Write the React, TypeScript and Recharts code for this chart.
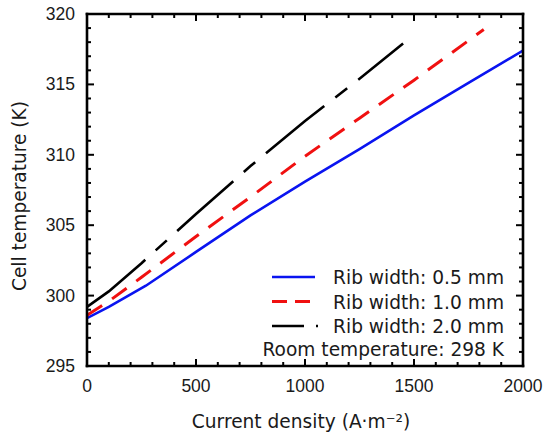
import { LineChart, Line, XAxis, YAxis, Legend } from "recharts";

// values
const xTicks = [0, 100, 200, 300, 400, 500, 600, 700, 800, 900, 1000, 1100, 1200, 1300, 1400, 1500, 1600, 1700, 1800, 1900, 2000];
const yTicks = [295, 296, 297, 298, 299, 300, 301, 302, 303, 304, 305, 306, 307, 308, 309, 310, 311, 312, 313, 314, 315, 316, 317, 318, 319, 320];

const blueX = [0, 100, 270, 500, 750, 1000, 1250, 1500, 1750, 2000];
const blueY = [298.4, 299.2, 300.7, 303.1, 305.7, 308.1, 310.4, 312.8, 315.1, 317.4];

const redX = [0, 100, 250, 500, 750, 1000, 1250, 1500, 1820];
const redY = [298.6, 299.6, 301.3, 304.2, 307.0, 309.9, 312.6, 315.3, 318.9];

const blackX = [0, 100, 250, 500, 750, 1000, 1250, 1450];
const blackY = [299.2, 300.3, 302.3, 305.8, 309.2, 312.4, 315.4, 317.9];

const seriesNames = ["Rib width: 0.5 mm", "Rib width: 1.0 mm", "Rib width: 2.0 mm"];
const seriesColors = ["#0a14f0", "#f01010", "#000000"];
const seriesDash = [undefined, "18 12", "75 14 15 14"];
const legendDash = [undefined, "15 8", "32 12 2 40"];
const seriesWidth = [2.6, 3, 2.6];
const roomText = "Room temperature: 298 K";

const toRows = (xs: number[], ys: number[]) => xs.map((x, i) => ({ x, y: ys[i] }));
const seriesData = [toRows(blueX, blueY), toRows(redX, redY), toRows(blackX, blackY)];

const tickFont = { fontFamily: "'Liberation Sans', Arial, sans-serif", fontSize: 17.5, fill: "#1a1a1a" };
const titleFont = { fontFamily: "'DejaVu Sans', sans-serif", fontSize: 18.6, fill: "#1a1a1a" };
const frame = { stroke: "#000", strokeWidth: 2.6, strokeLinecap: "square" as const };

const isMajorX = (v: number) => v % 500 === 0;
const isMajorY = (v: number) => v % 5 === 0;

function BottomTick({ x, y, payload }: any) {
  const major = isMajorX(payload.value);
  return (
    <g>
      <line x1={x} x2={x} y1={y} y2={y - (major ? 7 : 4)} stroke="#000" strokeWidth={2} />
      {major && (
        <text x={x} y={y + 26} textAnchor="middle" {...tickFont}>
          {payload.value}
        </text>
      )}
    </g>
  );
}

function TopTick({ x, y, payload }: any) {
  const major = isMajorX(payload.value);
  return <line x1={x} x2={x} y1={y} y2={y + (major ? 7 : 4)} stroke="#000" strokeWidth={2} />;
}

function LeftTick({ x, y, payload }: any) {
  const major = isMajorY(payload.value);
  return (
    <g>
      <line x1={x} x2={x + (major ? 7 : 4)} y1={y} y2={y} stroke="#000" strokeWidth={2} />
      {major && (
        <text x={x - 12} y={y + 6} textAnchor="end" {...tickFont}>
          {payload.value}
        </text>
      )}
    </g>
  );
}

function RightTick({ x, y, payload }: any) {
  const major = isMajorY(payload.value);
  return <line x1={x - (major ? 7 : 4)} x2={x} y1={y} y2={y} stroke="#000" strokeWidth={2} />;
}

function LegendBox() {
  return (
    <svg width={262} height={100} style={{ display: "block" }}>
      {seriesNames.map((name, i) => {
        const cy = 15 + i * 24.5;
        return (
          <g key={name}>
            <line
              x1={22}
              x2={i === 2 ? 68 : i === 1 ? 60 : 65}
              y1={cy}
              y2={cy}
              stroke={seriesColors[i]}
              strokeWidth={seriesWidth[i]}
              strokeDasharray={legendDash[i]}
            />
            <text x={254} y={cy + 7} textAnchor="end" {...titleFont}>
              {name}
            </text>
          </g>
        );
      })}
      <text x={254} y={87 + 7} textAnchor="end" {...titleFont}>
        {roomText}
      </text>
    </svg>
  );
}

export default function App() {
  return (
    <div style={{ position: "absolute", left: 0, top: 0, width: 545, height: 435, background: "#fff" }}>
      <LineChart width={545} height={435} margin={{ top: 0, right: 0, bottom: 0, left: 0 }}>
        <XAxis
          xAxisId="b"
          type="number"
          dataKey="x"
          domain={[0, 2000]}
          ticks={xTicks}
          interval={0}
          height={69}
          tickSize={0}
          tickMargin={0}
          tickLine={false}
          axisLine={frame}
          tick={BottomTick}
          allowDataOverflow
          label={(p: any) => (
            <text
              x={p.viewBox.x + p.viewBox.width / 2 - 4}
              y={p.viewBox.y + 62}
              textAnchor="middle"
              {...titleFont}
            >
              Current density (A·m⁻²)
            </text>
          )}
        />
        <XAxis
          xAxisId="t"
          orientation="top"
          type="number"
          dataKey="x"
          domain={[0, 2000]}
          ticks={xTicks}
          interval={0}
          height={14}
          tickSize={0}
          tickMargin={0}
          tickLine={false}
          axisLine={frame}
          tick={TopTick}
          allowDataOverflow
        />
        <YAxis
          yAxisId="l"
          type="number"
          dataKey="y"
          domain={[295, 320]}
          ticks={yTicks}
          interval={0}
          width={87}
          tickSize={0}
          tickMargin={0}
          tickLine={false}
          axisLine={frame}
          tick={LeftTick}
          allowDataOverflow
          label={(p: any) => {
            const cx = 26;
            const cy = p.viewBox.y + p.viewBox.height / 2 + 6;
            return (
              <text x={cx} y={cy} textAnchor="middle" transform={`rotate(-90, ${cx}, ${cy})`} {...titleFont}>
                Cell temperature (K)
              </text>
            );
          }}
        />
        <YAxis
          yAxisId="r"
          orientation="right"
          type="number"
          dataKey="y"
          domain={[295, 320]}
          ticks={yTicks}
          interval={0}
          width={22}
          tickSize={0}
          tickMargin={0}
          tickLine={false}
          axisLine={frame}
          tick={RightTick}
          allowDataOverflow
        />
        {seriesData.map((rows, i) => (
          <Line
            key={seriesNames[i]}
            xAxisId="b"
            yAxisId="l"
            data={rows}
            dataKey="y"
            name={seriesNames[i]}
            type="linear"
            stroke={seriesColors[i]}
            strokeWidth={seriesWidth[i]}
            strokeDasharray={seriesDash[i]}
            dot={false}
            activeDot={false}
            isAnimationActive={false}
          />
        ))}
        <Legend
          layout="vertical"
          align="center"
          verticalAlign="middle"
          content={() => <LegendBox />}
          wrapperStyle={{ left: 250, top: 262, width: 262 }}
        />
      </LineChart>
    </div>
  );
}
